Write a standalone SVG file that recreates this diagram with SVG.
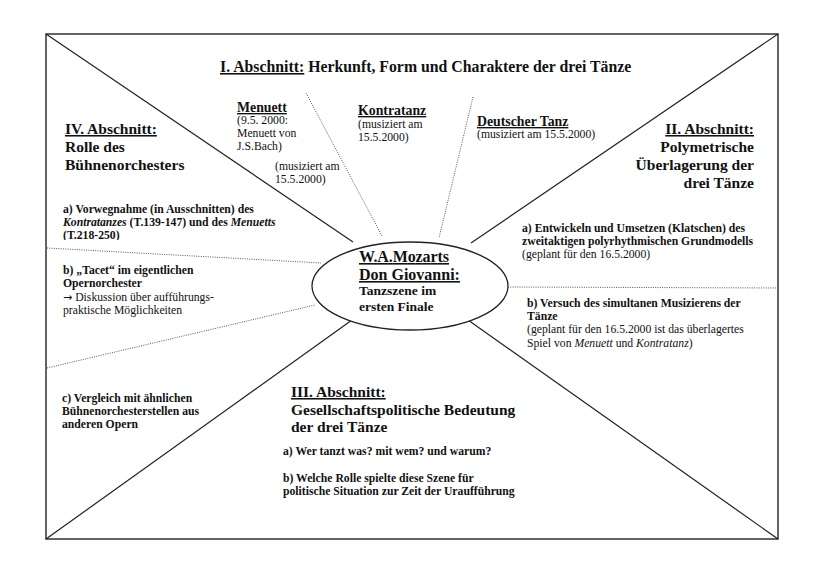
<svg xmlns="http://www.w3.org/2000/svg" width="826" height="583" viewBox="0 0 826 583" font-family="'Liberation Serif', 'Times New Roman', serif">
<defs>
<style>
text{font-family:'Liberation Serif','Times New Roman',serif;fill:#111}
.b{font-weight:bold}
.u{text-decoration:underline}
.h{font-size:15.5px;font-weight:bold}
.s{font-size:11.7px}
.m{font-size:13.8px}
.solid{stroke:#222;stroke-width:1.2;fill:none}
.dot{stroke:#444;stroke-width:0.9;stroke-dasharray:1 1.3;fill:none}
.i{font-style:italic}
.ar{font-family:'DejaVu Sans',sans-serif;font-size:11px}
</style>
<clipPath id="clipA"><rect x="0" y="0" width="826" height="240"/></clipPath>
</defs>
<rect width="826" height="583" fill="#fff"/>
<g id="frame">
<rect x="46" y="34" width="732" height="505" fill="none" stroke="#333" stroke-width="1.5"/>
</g>
<g id="connectors">
<line class="solid" x1="46" y1="34" x2="353" y2="242"/>
<line class="solid" x1="778" y1="34" x2="471" y2="243"/>
<line class="solid" x1="46" y1="539" x2="352" y2="320"/>
<line class="solid" x1="778" y1="539" x2="468" y2="320"/>
<line class="dot" x1="306" y1="93" x2="382" y2="236"/>
<line class="dot" x1="473" y1="97" x2="439" y2="238"/>
<line class="dot" x1="47" y1="248" x2="321" y2="263"/>
<line class="dot" x1="47" y1="368" x2="315" y2="305"/>
<line class="dot" x1="508" y1="287" x2="778" y2="288"/>
</g>
<g id="center">
<ellipse cx="410" cy="286" rx="98" ry="44" fill="#fff" stroke="#222" stroke-width="1.3"/>
<text x="359" y="262" font-size="16" class="b u" textLength="90" lengthAdjust="spacing">W.A.Mozarts</text>
<text x="359" y="280" font-size="16" class="b u">Don Giovanni:</text>
<text x="359" y="295" font-size="13.5" class="b">Tanzszene im</text>
<text x="359" y="311" font-size="13.5" class="b">ersten Finale</text>
</g>
<g id="section1">
<text x="220" y="72" font-size="15.8" class="b"><tspan class="u">I. Abschnitt:</tspan> Herkunft, Form und Charaktere der drei Tänze</text>
</g>
<g id="menuett">
<text x="237" y="112" class="m b u">Menuett</text>
<text class="s"><tspan x="237" y="124">(9.5. 2000:</tspan><tspan x="237" y="137">Menuett von</tspan><tspan x="237" y="150">J.S.Bach)</tspan></text>
<text class="s"><tspan x="275" y="170">(musiziert am</tspan><tspan x="275" y="183">15.5.2000)</tspan></text>
</g>
<g id="kontratanz">
<text x="358" y="115" class="m b u">Kontratanz</text>
<text class="s"><tspan x="358" y="128">(musiziert am</tspan><tspan x="358" y="141">15.5.2000)</tspan></text>
</g>
<g id="deutscher">
<text x="477" y="126" class="m b u">Deutscher Tanz</text>
<text x="477" y="138" class="s">(musiziert am 15.5.2000)</text>
</g>
<g id="section2">
<text class="h" text-anchor="end"><tspan x="754" y="134" class="u">II. Abschnitt:</tspan><tspan x="754" y="152">Polymetrische</tspan><tspan x="754" y="170">Überlagerung der</tspan><tspan x="754" y="188">drei Tänze</tspan></text>
</g>
<g id="section2a">
<text class="s b"><tspan x="522" y="232">a) Entwickeln und Umsetzen (Klatschen) des</tspan><tspan x="522" y="245">zweitaktigen polyrhythmischen Grundmodells</tspan></text>
<text x="522" y="258" class="s">(geplant für den 16.5.2000)</text>
</g>
<g id="section2b">
<text class="s b"><tspan x="527" y="307">b) Versuch des simultanen Musizierens der</tspan><tspan x="527" y="320">Tänze</tspan></text>
<text class="s"><tspan x="527" y="333">(geplant für den 16.5.2000 ist das überlagertes</tspan><tspan x="527" y="347">Spiel von <tspan class="i">Menuett</tspan> und <tspan class="i">Kontratanz</tspan>)</tspan></text>
</g>
<g id="section3">
<text class="h"><tspan x="291" y="397" class="u">III. Abschnitt:</tspan><tspan x="291" y="415">Gesellschaftspolitische Bedeutung</tspan><tspan x="291" y="432">der drei Tänze</tspan></text>
<text x="283" y="455" class="s b">a) Wer tanzt was? mit wem? und warum?</text>
<text class="s b"><tspan x="283" y="482">b) Welche Rolle spielte diese Szene für</tspan><tspan x="283" y="495">politische Situation zur Zeit der Uraufführung</tspan></text>
</g>
<g id="section4">
<text class="h"><tspan x="65" y="134" class="u">IV. Abschnitt:</tspan><tspan x="65" y="152">Rolle des</tspan><tspan x="65" y="170">Bühnenorchesters</tspan></text>
</g>
<g id="section4a" clip-path="url(#clipA)">
<text class="s b"><tspan x="63" y="213">a) Vorwegnahme (in Ausschnitten) des</tspan><tspan x="63" y="226"><tspan class="i">Kontratanzes</tspan> (T.139-147) und des <tspan class="i">Menuetts</tspan></tspan><tspan x="63" y="239">(T.218-250)</tspan></text>
</g>
<g id="section4b">
<text class="s b"><tspan x="63" y="274">b) „Tacet“ im eigentlichen</tspan><tspan x="63" y="287">Opernorchester</tspan></text>
<text class="s"><tspan x="63" y="301"><tspan class="ar">→</tspan> Diskussion über aufführungs-</tspan><tspan x="63" y="314">praktische Möglichkeiten</tspan></text>
</g>
<g id="section4c">
<text class="s b"><tspan x="62" y="402">c) Vergleich mit ähnlichen</tspan><tspan x="62" y="415">Bühnenorchesterstellen aus</tspan><tspan x="62" y="428">anderen Opern</tspan></text>
</g>
</svg>
